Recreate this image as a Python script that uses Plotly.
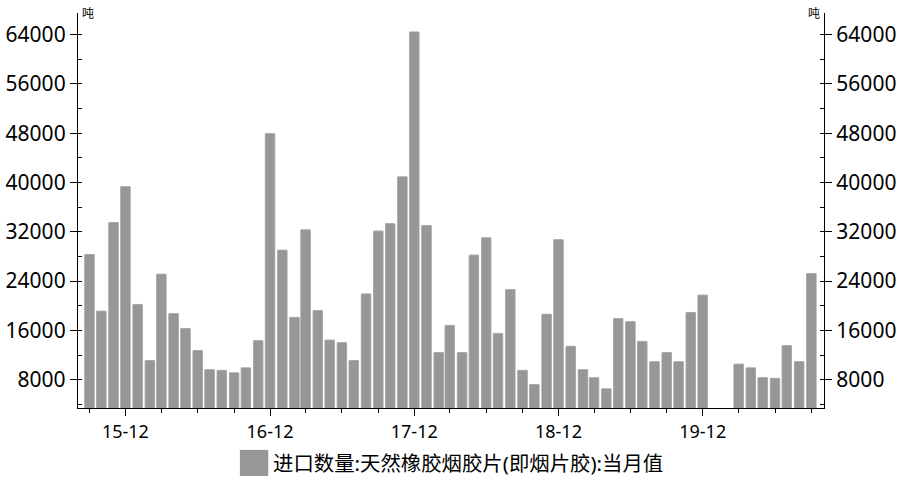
import pandas as pd
import plotly.graph_objects as go

# monthly import volume, tons (2015-09 .. 2020-09), None = no data
months = pd.date_range("2015-09-01", periods=61, freq="MS")
volume = [
    28300, 19100, 33500, 39300, 20200, 11100, 25100, 18700, 16300, 12700,
    9600, 9500, 9100, 9900, 14300, 47900, 29000, 18100, 32300, 19200,
    14400, 14000, 11100, 21900, 32100, 33300, 40900, 64400, 33000, 12400,
    16800, 12400, 28200, 31000, 15500, 22600, 9500, 7200, 18600, 30700,
    13400, 9600, 8300, 6500, 17900, 17400, 14200, 10900, 12400, 10900,
    18900, 21700, None, None, 10500, 9900, 8300, 8200, 13500, 10900,
    25200,
]
tick_dates = ["2015-12-01", "2016-12-01", "2017-12-01", "2018-12-01", "2019-12-01"]
tick_labels = ["15-12", "16-12", "17-12", "18-12", "19-12"]
series_name = "进口数量:天然橡胶烟胶片(即烟片胶):当月值"
unit = "吨"

font = "Noto Sans, Noto Sans CJK SC, sans-serif"
bar_fill = "#979797"
y_range = [3400, 67500]
bar_width = 23.5 * 86400000

fig = go.Figure()
fig.add_trace(go.Bar(
    x=months, y=volume, name=series_name, width=bar_width,
    marker=dict(color=bar_fill, line=dict(color="#505050", width=0.8)),
    showlegend=False,
))
# same series on the right axis (invisible) so the mirrored axis gets drawn
fig.add_trace(go.Bar(
    x=months, y=volume, yaxis="y2", width=bar_width,
    marker=dict(color="rgba(0,0,0,0)"), hoverinfo="skip", showlegend=False,
))

yax = dict(
    range=y_range, tick0=0, dtick=8000, tickformat="d", automargin=False,
    ticks="outside", ticklen=7, tickwidth=1.3, tickcolor="black",
    showline=True, linecolor="black", linewidth=1.3,
    showgrid=False, zeroline=False,
    tickfont=dict(family=font, size=21, color="black"),
    minor=dict(dtick=4000, tick0=0, ticks="inside", ticklen=4,
               tickcolor="black", tickwidth=1.2, showgrid=False),
)

fig.update_layout(
    width=899, height=493,
    margin=dict(l=78, r=75, t=13, b=85),
    paper_bgcolor="white", plot_bgcolor="white",
    barmode="overlay",
    font=dict(family=font, color="black"),
    xaxis=dict(
        type="date", range=["2015-08-03", "2020-10-03"], automargin=False,
        tickmode="array", tickvals=tick_dates, ticktext=tick_labels,
        ticks="outside", ticklen=7, tickwidth=1.3, tickcolor="black",
        showline=True, linecolor="black", linewidth=1.3,
        showgrid=False, zeroline=False,
        tickfont=dict(family=font, size=18, color="black"),
        minor=dict(dtick="M3", tick0="2015-09-01", ticks="outside", ticklen=4,
                   tickcolor="black", tickwidth=1.2, showgrid=False),
    ),
    yaxis=dict(side="left", **yax),
    yaxis2=dict(side="right", overlaying="y", anchor="x", **yax),
)

# units at top of both axes
fig.add_annotation(text=unit, xref="paper", yref="paper", x=0.003, y=1.0,
                   xanchor="left", yanchor="middle", showarrow=False,
                   font=dict(size=12, family=font))
fig.add_annotation(text=unit, xref="paper", yref="paper", x=0.997, y=1.0,
                   xanchor="right", yanchor="middle", showarrow=False,
                   font=dict(size=12, family=font))

# legend: large swatch + label
fig.add_shape(type="rect", xref="paper", yref="paper",
              x0=0.217, x1=0.255, y0=-0.172, y1=-0.106,
              fillcolor=bar_fill, line=dict(width=0))
fig.add_annotation(text=series_name, xref="paper", yref="paper", x=0.259, y=-0.139,
                   xanchor="left", yanchor="middle", showarrow=False,
                   font=dict(size=20.4, family=font))

# drop the default page margin so the figure fills the window exactly
fig.write_html("out.html", config={"displayModeBar": False},
               post_script="document.body.style.margin = '0';")
